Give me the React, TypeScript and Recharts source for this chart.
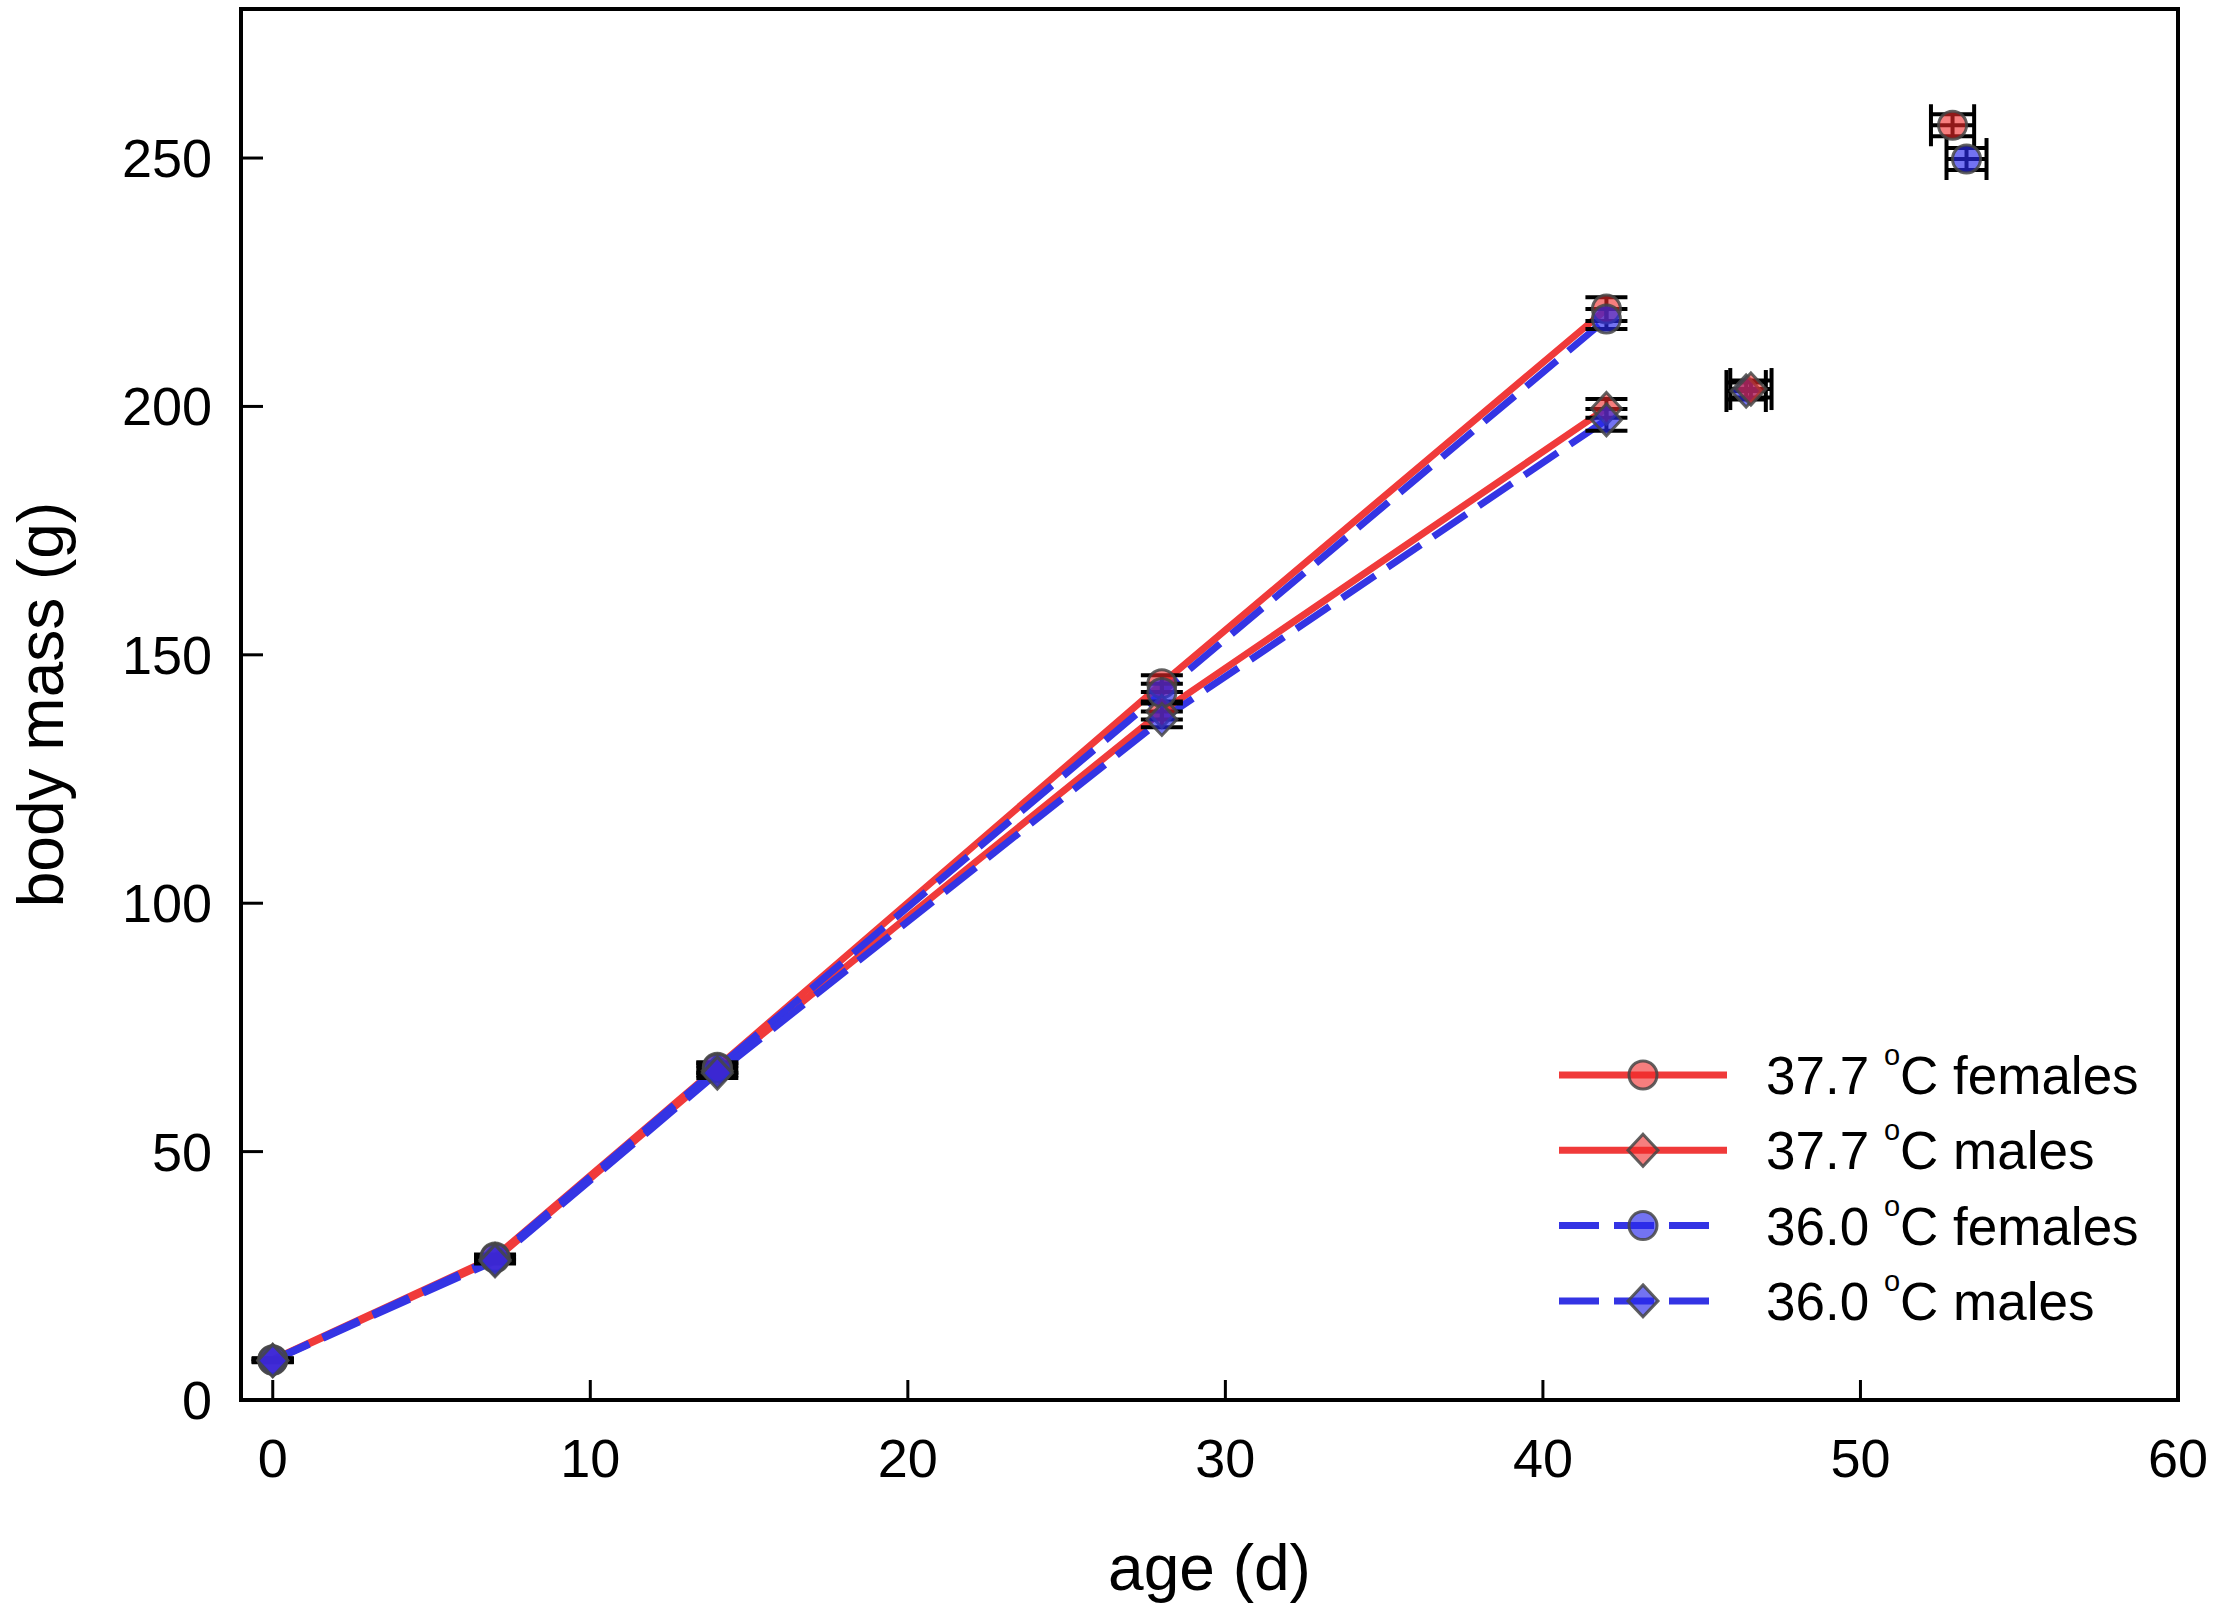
import React from 'react';
import {
  ComposedChart,
  Line,
  Scatter,
  XAxis,
  YAxis,
  ErrorBar,
  ReferenceArea,
  Legend,
} from 'recharts';

// ---- data ----
const ages = [0, 7, 14, 28, 42];

const hotFemalesMass = [8.1, 28.8, 67.0, 144.2, 219.6];
const hotFemalesErr = [0.3, 0.5, 1.0, 1.7, 2.4];
const hotMalesMass = [8.0, 28.3, 66.3, 138.6, 199.6];
const hotMalesErr = [0.3, 0.5, 1.0, 1.6, 1.9];
const coolFemalesMass = [8.0, 28.6, 66.8, 142.4, 217.6];
const coolFemalesErr = [0.3, 0.5, 1.0, 1.8, 2.0];
const coolMalesMass = [7.9, 28.0, 65.8, 137.0, 197.3];
const coolMalesErr = [0.3, 0.5, 1.0, 1.6, 2.2];

// final points (order: 37.7 females, 37.7 males, 36.0 females, 36.0 males)
const finalAge = [52.9, 46.55, 53.34, 46.4];
const finalAgeErr = [0.68, 0.65, 0.63, 0.62];
const finalMass = [256.6, 203.5, 249.8, 203.1];
const finalMassErr = [2.2, 1.7, 2.2, 1.7];

const xTicks = [0, 10, 20, 30, 40, 50, 60];
const yTicks = [0, 50, 100, 150, 200, 250];

const legendTemps = ['37.7', '37.7', '36.0', '36.0'];
const legendGroups = ['females', 'males', 'females', 'males'];

// ---- styles ----
const FONT = "'Liberation Sans', Arial, Helvetica, sans-serif";
const RED = '#f03a3a';
const BLUE = '#3434e4';
const RED_FILL = 'rgba(240,40,40,0.6)';
const BLUE_FILL = 'rgba(40,40,235,0.65)';
const MARK_STROKE = 'rgba(70,70,70,0.85)';
const DASH = '40 15';

const toPoints = (mass: number[], err: number[]) =>
  ages.map((x, i) => ({ x, y: mass[i], ey: err[i] }));

const hotFemales = toPoints(hotFemalesMass, hotFemalesErr);
const hotMales = toPoints(hotMalesMass, hotMalesErr);
const coolFemales = toPoints(coolFemalesMass, coolFemalesErr);
const coolMales = toPoints(coolMalesMass, coolMalesErr);

const finalPoint = (i: number) => [
  { x: finalAge[i], y: finalMass[i], ex: finalAgeErr[i], ey: finalMassErr[i] },
];

const seriesFill = [RED_FILL, RED_FILL, BLUE_FILL, BLUE_FILL];
const seriesStroke = [RED, RED, BLUE, BLUE];
const seriesShape = ['circle', 'diamond', 'circle', 'diamond'];
const seriesDash = [undefined, undefined, DASH, DASH];

const Marker = ({ cx, cy, kind, fill }: any) => {
  if (cx == null || cy == null) return null;
  if (kind === 'diamond') {
    return (
      <polygon
        points={`${cx},${cy - 16} ${cx + 15},${cy} ${cx},${cy + 16} ${cx - 15},${cy}`}
        fill={fill}
        stroke={MARK_STROKE}
        strokeWidth={3}
      />
    );
  }
  return <circle cx={cx} cy={cy} r={14} fill={fill} stroke={MARK_STROKE} strokeWidth={3} />;
};

const makeShape = (i: number) => (props: any) =>
  <Marker cx={props.cx} cy={props.cy} kind={seriesShape[i]} fill={seriesFill[i]} />;

const XTick = (props: any) => {
  const { x, y, payload } = props;
  return (
    <g>
      <line x1={x} y1={y} x2={x} y2={y - 20} stroke="#000" strokeWidth={3} />
      <text x={x} y={y + 77} textAnchor="middle" fontSize={54} fontFamily={FONT} fill="#000">
        {payload.value}
      </text>
    </g>
  );
};

const YTick = (props: any) => {
  const { x, y, payload } = props;
  return (
    <g>
      <line x1={x} y1={y} x2={x + 22} y2={y} stroke="#000" strokeWidth={3} />
      <text x={x - 29} y={y + 19} textAnchor="end" fontSize={54} fontFamily={FONT} fill="#000">
        {payload.value}
      </text>
    </g>
  );
};

const XLabel = (props: any) => {
  const vb = props.viewBox || {};
  return (
    <text
      x={vb.x + vb.width / 2}
      y={vb.y + 190}
      textAnchor="middle"
      fontSize={64}
      fontFamily={FONT}
      fill="#000"
    >
      age (d)
    </text>
  );
};

const YLabel = (props: any) => {
  const vb = props.viewBox || {};
  const cx = vb.x + 63;
  const cy = vb.y + vb.height / 2;
  return (
    <text
      transform={`translate(${cx},${cy}) rotate(-90)`}
      textAnchor="middle"
      fontSize={64}
      fontFamily={FONT}
      fill="#000"
    >
      body mass (g)
    </text>
  );
};

const LegendContent = () => {
  const rowGap = 75.3;
  return (
    <svg width={660} height={310} style={{ display: 'block', overflow: 'visible' }}>
      {legendTemps.map((t, i) => {
        const cy = 45 + i * rowGap;
        const dashed = !!seriesDash[i];
        return (
          <g key={i}>
            <line
              x1={19}
              y1={cy}
              x2={dashed ? 169 : 187}
              y2={cy}
              stroke={seriesStroke[i]}
              strokeWidth={7}
              strokeDasharray={seriesDash[i]}
            />
            <Marker cx={103} cy={cy} kind={seriesShape[i]} fill={seriesFill[i]} />
            <text x={226} y={cy + 19} fontSize={53} fontFamily={FONT} fill="#000">
              {`${t} `}
              <tspan fontSize={29} dy={-29}>
                o
              </tspan>
              <tspan fontSize={53} dy={29}>
                {`C ${legendGroups[i]}`}
              </tspan>
            </text>
          </g>
        );
      })}
    </svg>
  );
};

const lineSeries = [hotFemales, hotMales, coolFemales, coolMales];
const finalOrder = [2, 3, 0, 1];

export default function App() {
  return (
    <div style={{ position: 'absolute', left: 0, top: 0, width: 2217, height: 1618, background: '#fff' }}>
      <ComposedChart
        width={2217}
        height={1618}
        margin={{ top: 9, right: 39, bottom: 0, left: 0 }}
      >
        <XAxis
          type="number"
          dataKey="x"
          domain={[-1, 60]}
          ticks={xTicks}
          interval={0}
          allowDataOverflow
          height={218}
          axisLine={false}
          tickLine={false}
          tickSize={0}
          tickMargin={0}
          tick={<XTick />}
          label={{ content: <XLabel /> } as any}
        />
        <YAxis
          type="number"
          dataKey="y"
          domain={[0, 280]}
          ticks={yTicks}
          interval={0}
          allowDataOverflow
          width={241}
          axisLine={false}
          tickLine={false}
          tickSize={0}
          tickMargin={0}
          tick={<YTick />}
          label={{ content: <YLabel /> } as any}
        />
        <ReferenceArea
          x1={-1}
          x2={60}
          y1={0}
          y2={280}
          fill="none"
          fillOpacity={0}
          stroke="#000"
          strokeWidth={4}
          ifOverflow="visible"
        />
        {lineSeries.map((d, i) => (
          <Line
            key={`line-${i}`}
            data={d}
            dataKey="y"
            type="linear"
            stroke={seriesStroke[i]}
            strokeWidth={7}
            strokeDasharray={seriesDash[i]}
            dot={false}
            activeDot={false}
            isAnimationActive={false}
            legendType="none"
          />
        ))}
        {lineSeries.map((d, i) => (
          <Scatter
            key={`pts-${i}`}
            data={d}
            dataKey="y"
            fill={seriesFill[i]}
            shape={makeShape(i)}
            isAnimationActive={false}
            legendType="none"
          >
            <ErrorBar dataKey="ey" direction="y" width={21} stroke="#000" strokeWidth={4} />
          </Scatter>
        ))}
        {finalOrder.map((i) => (
          <Scatter
            key={`final-${i}`}
            data={finalPoint(i)}
            dataKey="y"
            fill={seriesFill[i]}
            shape={makeShape(i)}
            isAnimationActive={false}
            legendType="none"
          >
            <ErrorBar dataKey="ex" direction="x" width={21} stroke="#000" strokeWidth={4} />
            <ErrorBar dataKey="ey" direction="y" width={21} stroke="#000" strokeWidth={4} />
          </Scatter>
        ))}
        <Legend
          layout="vertical"
          align="center"
          verticalAlign="middle"
          content={<LegendContent />}
          wrapperStyle={{ left: 1540, top: 1030, width: 660, height: 310 }}
        />
      </ComposedChart>
    </div>
  );
}
